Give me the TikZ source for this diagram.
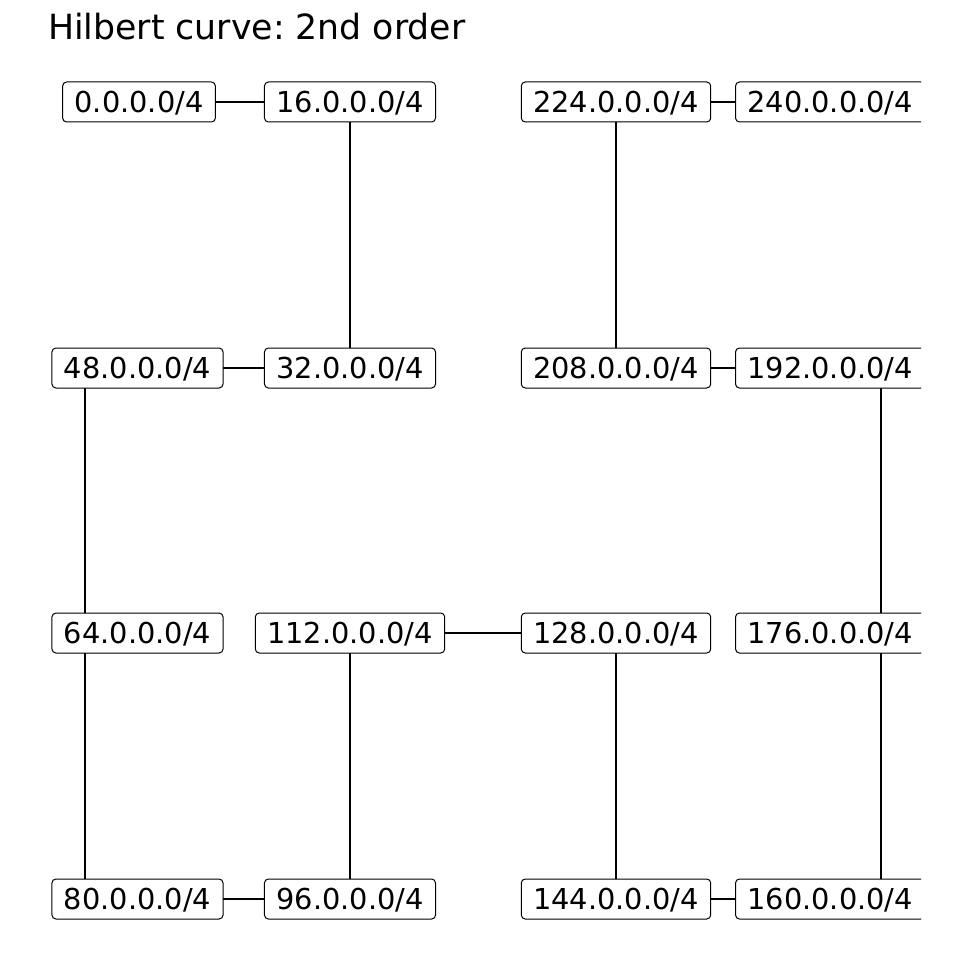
\documentclass[tikz,border=0pt]{standalone}
\usepackage{fontspec}
\newfontfamily\dejavu{DejaVu Sans}
\frenchspacing
\begin{document}
\begin{tikzpicture}[
    x=1pt, y=-1pt,
    % Label boxes
    addr/.style={draw, fill=white, rounded corners=4pt, line width=1pt,
      font=\dejavu\fontsize{28.8}{34}\selectfont,
      inner xsep=12pt, text height=21pt, text depth=0pt, minimum height=40pt},
    % Curve segments
    curve/.style={line width=2.2pt},
]
\useasboundingbox (0,0) rectangle (960,960);

% Title
\node[anchor=base west, inner sep=0pt, font=\dejavu\fontsize{34.7}{40}\selectfont] (title) at (48,40) {Hilbert curve: 2nd order};

\begin{scope}
\clip (0,0) rectangle (921,960);

% === CURVE POINTS ===
\foreach \n/\x/\y in {0/85/102, 16/350/102, 32/350/368, 48/85/368,
                      64/85/633, 80/85/899, 96/350/899, 112/350/633,
                      128/616/633, 144/616/899, 160/881/899, 176/881/633,
                      192/881/368, 208/616/368, 224/616/102, 240/881/102}
  \coordinate (p\n) at (\x,\y);

% === CURVE ===
\draw[curve] (p0) -- (p16) -- (p32) -- (p48) -- (p64) -- (p80) -- (p96) -- (p112)
  -- (p128) -- (p144) -- (p160) -- (p176) -- (p192) -- (p208) -- (p224) -- (p240);

% === LABELS ===
\foreach \n/\x/\y in {0/139/102, 48/137.5/368, 64/137.5/633, 80/137.5/899,
                      16/350/102, 32/350/368, 112/350/633, 96/350/899,
                      224/616/102, 208/616/368, 128/616/633, 144/616/899}
  \node[addr] (n\n) at (\x,\y) {\n.0.0.0/4};

% Right column sits against the edge
\foreach \n/\y in {240/102, 192/368, 176/633, 160/899}
  \node[addr, anchor=west] (n\n) at (735,\y) {\n.0.0.0/4};
\end{scope}

\end{tikzpicture}
\end{document}
